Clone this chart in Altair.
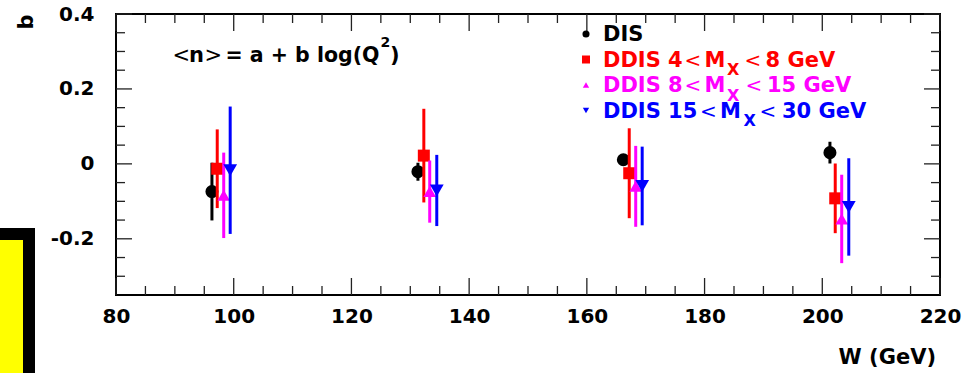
import altair as alt
import pandas as pd

# ---------------- data ----------------
W_DIS = [96.3, 131.3, 166.2, 201.3]
B_DIS = [-0.074, -0.021, 0.011, 0.030]
E_DIS = [0.077, 0.024, 0.015, 0.029]

W_M4 = [97.2, 132.3, 167.2, 202.2]
B_M4 = [-0.013, 0.022, -0.025, -0.092]
E_M4 = [0.105, 0.125, 0.120, 0.093]

W_M8 = [98.3, 133.3, 168.3, 203.3]
B_M8 = [-0.084, -0.074, -0.060, -0.147]
E_M8 = [0.114, 0.083, 0.108, 0.118]

W_M15 = [99.4, 134.5, 169.4, 204.5]
B_M15 = [-0.017, -0.071, -0.059, -0.115]
E_M15 = [0.170, 0.095, 0.105, 0.130]

SERIES_W = [W_DIS, W_M4, W_M8, W_M15]
SERIES_B = [B_DIS, B_M4, B_M8, B_M15]
SERIES_E = [E_DIS, E_M4, E_M8, E_M15]
COLORS = ["#000000", "#ff0000", "#ff00ff", "#0000ff"]
SHAPES = ["circle", "square", "triangle-up", "triangle-down"]
SIZES = [170, 144, 160, 190]

X_MAJOR = [80, 100, 120, 140, 160, 180, 200, 220]
X_MINOR = [85, 90, 95, 105, 110, 115, 125, 130, 135, 145, 150, 155,
           165, 170, 175, 185, 190, 195, 205, 210, 215]
Y_MAJOR = [-0.2, 0.0, 0.2, 0.4]
Y_MINOR = [-0.3, -0.25, -0.15, -0.1, -0.05, 0.05, 0.1, 0.15, 0.25, 0.3, 0.35]

X_DOMAIN = [80, 220]
Y_DOMAIN = [-0.35, 0.4]

LEGEND_ROWS = ["DIS", "DDIS 4", "DDIS 8", "DDIS 15"]
LEGEND_TAILS = ["", "8 GeV", "15 GeV", "30 GeV"]

PW, PH = 824, 281
PAD = {"left": 116, "top": 14, "right": 30, "bottom": 78}
FONT = "DejaVu Sans"
FS = 21

xs = alt.Scale(domain=X_DOMAIN, nice=False, zero=False)
ys = alt.Scale(domain=Y_DOMAIN, nice=False, zero=False)
x_axis = alt.Axis(values=X_MAJOR, ticks=False, tickSize=0, domain=False, grid=False,
                  labelFont=FONT, labelFontWeight="bold", labelFontSize=20,
                  labelColor="black", labelPadding=11, labelFlush=False,
                  labelOverlap=False, title=None, format="d")
y_axis = alt.Axis(values=Y_MAJOR, ticks=False, tickSize=0, domain=False, grid=False,
                  labelFont=FONT, labelFontWeight="bold", labelFontSize=20,
                  labelColor="black", labelPadding=22, labelFlush=False,
                  labelOverlap=False, title=None,
                  labelExpr="datum.value == 0 ? '0' : (datum.value < 0 ? '-' + format(-datum.value, '.1f') : format(datum.value, '.1f'))")


def X(field):
    return alt.X(f"{field}:Q", scale=xs, axis=x_axis)


def Y(field):
    return alt.Y(f"{field}:Q", scale=ys, axis=y_axis)


layers = []

# decorative yellow box at lower left
one = pd.DataFrame({"a": [0]})
layers.append(alt.Chart(one).mark_rect(color="black").encode(
    x=alt.value(-116), x2=alt.value(-81), y=alt.value(214), y2=alt.value(380)))
layers.append(alt.Chart(one).mark_rect(color="#ffff00").encode(
    x=alt.value(-116), x2=alt.value(-93), y=alt.value(226), y2=alt.value(380)))

# inward ticks on all four sides
for vals, ln in [(X_MAJOR, 17), (X_MINOR, 9)]:
    d = pd.DataFrame({"W": vals})
    layers.append(alt.Chart(d).mark_rule(color="#222", strokeWidth=1.3).encode(
        x=X("W"), y=alt.value(PH), y2=alt.value(PH - ln)))
    layers.append(alt.Chart(d).mark_rule(color="#222", strokeWidth=1.3).encode(
        x=X("W"), y=alt.value(0), y2=alt.value(ln)))
for vals, ln in [(Y_MAJOR, 16), (Y_MINOR, 9)]:
    d = pd.DataFrame({"b": vals})
    layers.append(alt.Chart(d).mark_rule(color="#222", strokeWidth=1.3).encode(
        y=Y("b"), x=alt.value(0), x2=alt.value(ln)))
    layers.append(alt.Chart(d).mark_rule(color="#222", strokeWidth=1.3).encode(
        y=Y("b"), x=alt.value(PW), x2=alt.value(PW - ln)))

# data: error bars + markers, series by series
for w, b, e, c, sh, sz in zip(SERIES_W, SERIES_B, SERIES_E, COLORS, SHAPES, SIZES):
    d = pd.DataFrame({"W": w, "b": b, "e": e})
    d["lo"] = d["b"] - d["e"]
    d["hi"] = d["b"] + d["e"]
    layers.append(alt.Chart(d).mark_rule(color=c, strokeWidth=3).encode(
        x=X("W"), y=Y("lo"), y2="hi:Q"))
    layers.append(alt.Chart(d).mark_point(shape=sh, filled=True, size=sz, color=c,
                                          opacity=1, strokeWidth=0).encode(
        x=X("W"), y=Y("b")))


def txt(s, x, y, color="black", size=FS, weight="bold", align="left",
        baseline="alphabetic", angle=0):
    kw = dict(text=s, color=color, font=FONT, fontSize=size, fontWeight=weight,
              align=align, baseline=baseline)
    if angle:
        kw["angle"] = angle
    return alt.Chart(one).mark_text(**kw).encode(
        x=alt.value(x - PAD["left"]), y=alt.value(y - PAD["top"]))


# formula
FB = 61.7
layers += [
    txt("<", 172.5, FB, weight="normal"),
    txt("n", 189, FB),
    txt(">", 204.5, FB, weight="normal"),
    txt("= a + b log(Q", 225.5, FB, size=20.5),
    txt("2", 380.5, 46.7, size=14),
    txt(")", 390, FB),
]

# legend
ROW_Y = [41, 66.5, 92, 117.5]
MARK_Y = [34, 59.5, 85, 110.5]
LEG_SIZES = [50, 64, 40, 40]
for i in range(4):
    layers.append(alt.Chart(one).mark_point(shape=SHAPES[i], filled=True, size=LEG_SIZES[i],
                                            color=COLORS[i], opacity=1, strokeWidth=0).encode(
        x=alt.value(586 - PAD["left"]), y=alt.value(MARK_Y[i] - PAD["top"])))
    layers.append(txt(LEGEND_ROWS[i], 603, ROW_Y[i], color=COLORS[i]))

LT_X = [None, 684.5, 684.5, 700]
M_X = [None, 704.5, 704.5, 720]
SUB_X = [None, 727, 727, 743.5]
LT2_X = [None, 744.5, 745.5, 759.5]
TAIL_X = [None, 765.5, 767, 782]
for i in range(1, 4):
    c = COLORS[i]
    yb = ROW_Y[i]
    layers += [
        txt("<", LT_X[i], yb, color=c, weight="normal", size=20),
        txt("M", M_X[i], yb, color=c),
        txt("X", SUB_X[i], yb + 8.5, color=c, size=16),
        txt("<", LT2_X[i], yb, color=c, weight="normal", size=20),
        txt(LEGEND_TAILS[i], TAIL_X[i], yb, color=c),
    ]

# axis titles
layers.append(txt("W (GeV)", 936, 364, align="right"))
layers.append(txt("b", 33, 14.5, align="right", angle=270))

chart = alt.layer(*layers).properties(
    width=PW, height=PH, padding=PAD,
    autosize=alt.AutoSizeParams(type="none"), background="white",
).configure_view(stroke="black", strokeWidth=2)

chart.save("out.html", embed_options={"renderer": "svg", "actions": False})
